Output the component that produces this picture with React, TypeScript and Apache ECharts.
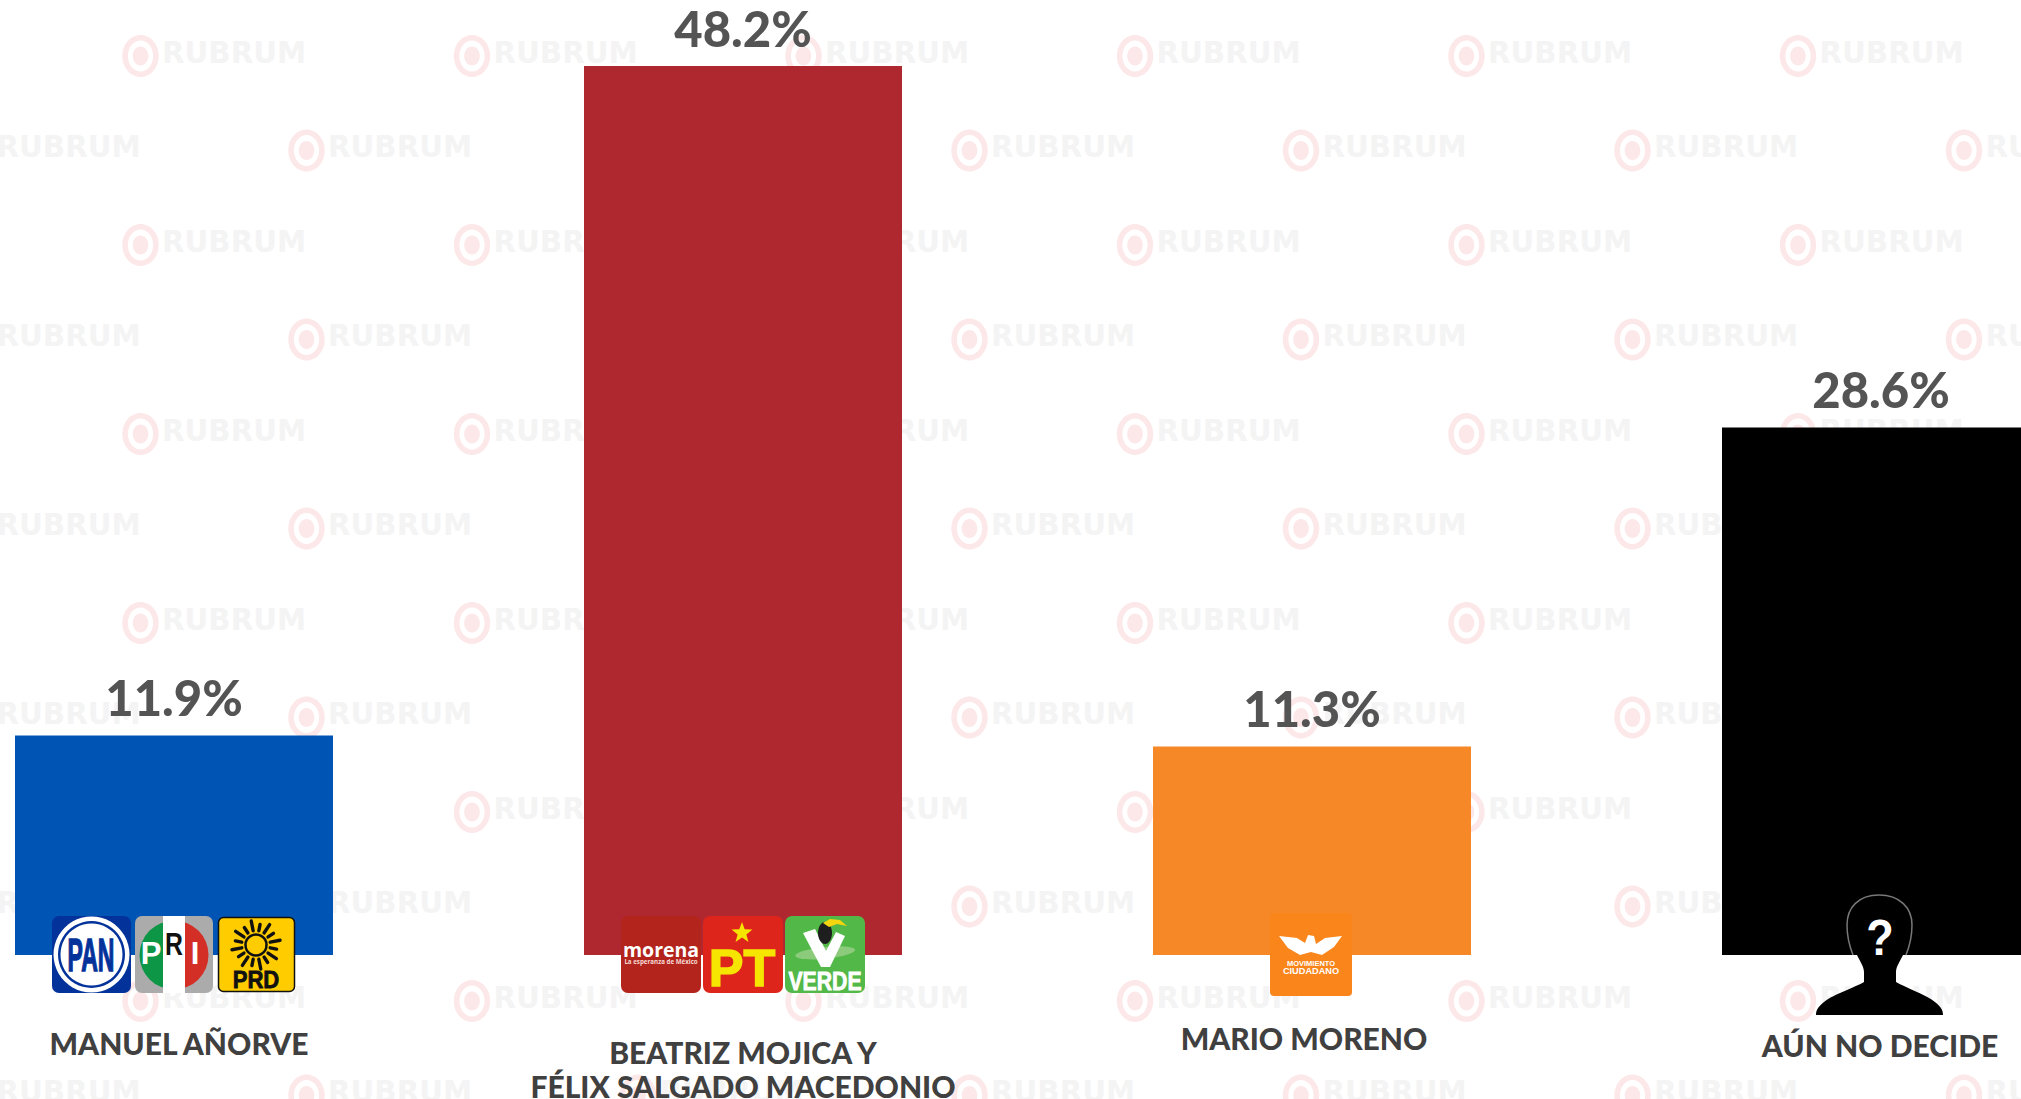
import React, { useEffect, useRef } from "react";
import * as echarts from "echarts";

const categories = ["MANUEL AÑORVE", "BEATRIZ MOJICA Y\nFÉLIX SALGADO MACEDONIO", "MARIO MORENO", "AÚN NO DECIDE"];
const values = [11.9, 48.2, 11.3, 28.6];
const barColors = ["#0054B4", "#AF272F", "#F78828", "#000000"];
const labelPadding = [
  [71, 0, 0, 10],
  [80, 0, 0, 0],
  [66, 16, 0, 0],
  [73, 2, 0, 0],
];

const W = 2021;
const H = 1099;
const LOGO_Z = 10;
const SANS = "'Liberation Sans'";

const silhouette =
  "M1879 895 C1858 895 1847 908 1847 925 C1847 935 1851 944 1856 953 C1859 960 1864 966 1864 972 L1864 982 C1856 987 1834 994 1824 1002 C1818 1007 1816 1010 1816 1015 L1943 1015 C1943 1010 1941 1007 1935 1002 C1925 994 1904 987 1896 982 L1896 972 C1896 966 1901 960 1904 953 C1909 944 1912 935 1912 925 C1912 908 1900 895 1879 895 Z";
const silhouetteEdge =
  "M1853 955 C1849 945 1847 935 1847 925 C1847 908 1858 895 1879 895 C1900 895 1912 908 1912 925 C1912 935 1910 945 1906 955";

echarts.graphic.registerShape("silhouette", echarts.graphic.extendPath(silhouette, {}));
echarts.graphic.registerShape("silhouetteEdge", echarts.graphic.extendPath(silhouetteEdge, {}));

function watermark(): any[] {
  const out: any[] = [];
  for (let row = 0; row < 12; row++) {
    const y = 56 + row * 94.5;
    const start = row % 2 === 0 ? 140.5 : -25;
    for (let col = 0; col < 7; col++) {
      const x = start + col * 331.5;
      out.push(
        { type: "ellipse", z: 0, silent: true, shape: { cx: x, cy: y, rx: 18.2, ry: 21 }, style: { fill: "#FDE8E9" } },
        { type: "ellipse", z: 0, silent: true, shape: { cx: x, cy: y, rx: 12.6, ry: 15.5 }, style: { fill: "#FFFFFF" } },
        { type: "ellipse", z: 0, silent: true, shape: { cx: x, cy: y, rx: 7.8, ry: 9.5 }, style: { fill: "#FDE8E9" } },
        {
          type: "text", z: 0, silent: true, x: x + 21.5, y: y - 3.5,
          style: { text: "RUBRUM", fill: "#F4F4F4", font: "bold 29.3px 'DejaVu Sans'", align: "left", verticalAlign: "middle" },
        }
      );
    }
  }
  return out;
}

function box(x: number, y: number, w: number, h: number, fill: string, r = 7, extra: any = {}) {
  return { type: "rect", z: LOGO_Z, silent: true, shape: { x, y, width: w, height: h, r }, style: { fill, ...extra } };
}
function txt(text: string, x: number, y: number, font: string, fill: string, scaleX = 1, z = LOGO_Z + 2, extra: any = {}) {
  return {
    type: "text", z, silent: true, x, y, scaleX,
    style: { text, font, fill, align: "center", verticalAlign: "middle", ...extra },
  };
}
function shape(type: string, s: any, style: any, z = LOGO_Z + 1, extra: any = {}) {
  return { type, z, silent: true, shape: s, style, ...extra };
}
function star(cx: number, cy: number, r: number) {
  const pts: number[][] = [];
  for (let i = 0; i < 10; i++) {
    const a = -Math.PI / 2 + (i * Math.PI) / 5;
    const q = i % 2 === 0 ? r : r * 0.42;
    pts.push([cx + q * Math.cos(a), cy + q * Math.sin(a)]);
  }
  return pts;
}

function logos(): any[] {
  const out: any[] = [];
  // PAN
  out.push(
    box(52, 916, 79, 77, "#03339A"),
    shape("circle", { cx: 91.5, cy: 954.5, r: 38 }, { fill: "#FFFFFF" }),
    shape("circle", { cx: 91.5, cy: 954.5, r: 33.5 }, { fill: "#03339A" }),
    shape("circle", { cx: 91.5, cy: 954.5, r: 31 }, { fill: "#FFFFFF" }),
    txt("PAN", 91, 955, `bold 46px ${SANS}`, "#03339A", 0.5, LOGO_Z + 2, { stroke: "#03339A", lineWidth: 1.5 })
  );
  // PRI
  out.push(
    box(135, 916, 78, 77, "#ABABAB"),
    shape("sector", { cx: 174, cy: 955, r: 34.5, r0: 0, startAngle: Math.PI / 2, endAngle: (3 * Math.PI) / 2 }, { fill: "#0E9647" }),
    shape("sector", { cx: 174, cy: 955, r: 34.5, r0: 0, startAngle: -Math.PI / 2, endAngle: Math.PI / 2 }, { fill: "#D32F26" }),
    { ...box(163, 916, 22, 77, "#FFFFFF", 0), z: LOGO_Z + 1 },
    txt("P", 151, 953, `bold 31px ${SANS}`, "#FFFFFF"),
    txt("R", 174, 945, `bold 31px ${SANS}`, "#111111", 0.8),
    txt("I", 195, 953, `bold 31px ${SANS}`, "#FFFFFF")
  );
  // PRD
  out.push(
    box(218.5, 917.5, 76, 74, "#FFCC00", 5, { stroke: "#111111", lineWidth: 1.5 }),
    shape("circle", { cx: 256, cy: 945, r: 10.5 }, { fill: "#FFCC00", stroke: "#111111", lineWidth: 2.5 }),
    txt("PRD", 256, 980, `bold 24px ${SANS}`, "#111111", 0.92, LOGO_Z + 2, { stroke: "#111111", lineWidth: 0.8 })
  );
  for (let i = 0; i < 16; i++) {
    const a = ((i + 0.5) * Math.PI) / 8;
    out.push(
      shape(
        "line",
        {
          x1: 256 + 14.5 * Math.cos(a), y1: 945 + 14.5 * Math.sin(a),
          x2: 256 + (i % 2 ? 24.5 : 21) * Math.cos(a), y2: 945 + (i % 2 ? 24.5 : 21) * Math.sin(a),
        },
        { stroke: "#111111", lineWidth: 3.4, lineCap: "round" }
      )
    );
  }
  // morena
  out.push(
    box(621, 916, 80, 77, "#B3241C"),
    txt("morena", 661, 949, `bold 19.5px 'Open Sans'`, "#FFFFFF"),
    txt("La esperanza de México", 661, 961, `bold 6.2px 'Open Sans'`, "#F7D9D5")
  );
  // PT
  out.push(
    box(703, 916, 80, 77, "#DE251C"),
    shape("polygon", { points: star(742, 933, 11) }, { fill: "#F5E500" }),
    txt("PT", 742, 968, `bold 52px ${SANS}`, "#F5E500", 1, LOGO_Z + 2, { stroke: "#F5E500", lineWidth: 1.5 })
  );
  // VERDE
  out.push(
    box(785, 916, 80, 77, "#52B848"),
    shape("ellipse", { cx: 825, cy: 953, rx: 30, ry: 6 }, { fill: "#8CCB7C" }, LOGO_Z + 1, { rotation: 0.1, originX: 825, originY: 953 }),
    shape("polygon", { points: [[803, 933], [815, 929], [826, 951], [836, 932], [845, 936], [830, 967], [821, 967]] }, { fill: "#FFFFFF" }, LOGO_Z + 2),
    shape("ellipse", { cx: 825, cy: 933, rx: 7, ry: 11 }, { fill: "#1E1E1E" }, LOGO_Z + 3),
    shape("polygon", { points: [[823, 923], [830, 919], [840, 920], [847, 926], [837, 924], [829, 927]] }, { fill: "#F4D50F" }, LOGO_Z + 4),
    txt("VERDE", 825, 981, `bold 25px ${SANS}`, "#FFFFFF", 0.85, LOGO_Z + 4, { stroke: "#FFFFFF", lineWidth: 0.8 })
  );
  // Movimiento Ciudadano
  out.push(
    box(1270, 913, 82, 83, "#F9851B", 4),
    shape("polygon", {
      points: [[1279, 936], [1297, 938], [1305, 943], [1308, 935], [1314, 936], [1316, 944], [1325, 938], [1342, 936], [1334, 947], [1322, 955], [1311, 952], [1300, 955], [1288, 948]],
    }, { fill: "#FFFFFF" }),
    txt("MOVIMIENTO", 1311, 963, `bold 7.5px ${SANS}`, "#FFFFFF"),
    txt("CIUDADANO", 1311, 971, `bold 9.2px ${SANS}`, "#FFFFFF")
  );
  // Unknown candidate
  out.push(
    { type: "silhouette", z: LOGO_Z, silent: true, x: 0, y: 0, style: { fill: "#000000" } },
    { type: "silhouetteEdge", z: LOGO_Z + 1, silent: true, x: 0, y: 0, style: { fill: "none", stroke: "#777777", lineWidth: 1.5 } },
    txt("?", 1880, 938, `bold 50px ${SANS}`, "#FFFFFF", 0.9)
  );
  return out;
}

export default function App() {
  const ref = useRef<HTMLDivElement>(null);
  useEffect(() => {
    document.body.style.margin = "0";
    document.body.style.overflow = "hidden";
    const chart = echarts.init(ref.current!, null, { renderer: "svg" });
    chart.setOption({
      animation: false,
      backgroundColor: "#FFFFFF",
      grid: { left: -110.5, width: 2276, top: 66, height: 889, containLabel: false, outerBoundsMode: "none" },
      xAxis: {
        type: "category",
        data: categories.map((value, i) => ({ value, textStyle: { padding: labelPadding[i] } })),
        axisLine: { show: false },
        axisTick: { show: false },
        axisLabel: {
          interval: 0,
          margin: 0,
          hideOverlap: false,
          color: "#404040",
          fontFamily: "Lato",
          fontWeight: 900,
          fontSize: 30,
          lineHeight: 34,
        },
      },
      yAxis: { type: "value", min: 0, max: 48.2, show: false },
      series: [
        {
          type: "bar",
          barWidth: 318,
          data: values.map((value, i) => ({ value, itemStyle: { color: barColors[i] } })),
          z: 2,
          label: {
            show: true,
            position: "top",
            distance: 14,
            formatter: "{c}%",
            color: "#545454",
            fontFamily: "Lato",
            fontWeight: 900,
            fontSize: 49,
          },
        },
      ],
      graphic: { elements: [...watermark(), ...logos()] },
    });
    return () => chart.dispose();
  }, []);
  return <div ref={ref} style={{ width: W, height: H }} />;
}
